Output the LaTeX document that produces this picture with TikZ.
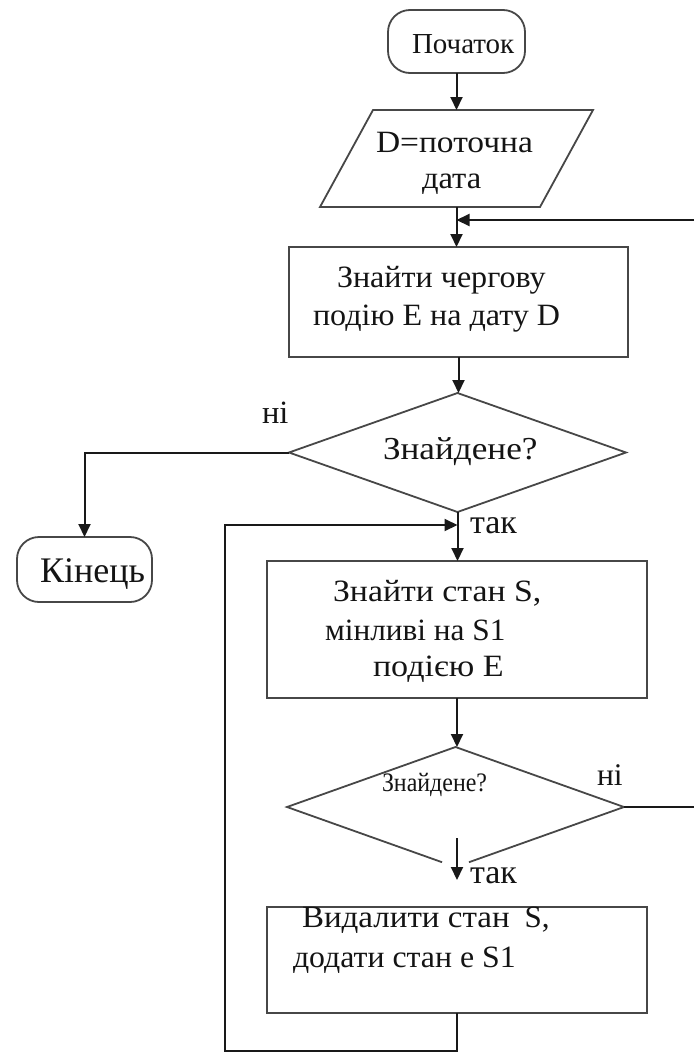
\documentclass[tikz,border=0pt]{standalone}
\usepackage{fontspec}
\setmainfont{Liberation Serif}
\usetikzlibrary{shapes.geometric,arrows.meta,calc}

% horizontally stretched text
\newcommand{\xstretch}[2]{\scalebox{#1}[1]{#2}}

\tikzset{
  flow/.style={line width=2pt, draw=black!90},
  arr/.style={flow, -{Triangle[length=13pt,width=12pt]}},
  outline/.style={draw=black!72, line width=1.8pt, inner sep=0pt, outer sep=0pt},
  terminal/.style={outline, rounded corners=22pt},
  procbox/.style={outline, rectangle},
  decision/.style={outline, diamond},
  frame/.style={rectangle, inner sep=0pt, outer sep=0pt},
  txt/.style={anchor=base west, inner sep=0pt, outer sep=0pt,
    font=\fontsize{31}{36}\selectfont, text=black!92},
  fs/.style={font=\fontsize{#1}{#1}\selectfont},
}

\begin{document}
\begin{tikzpicture}[x=1pt,y=-1pt]
\useasboundingbox (0,0) rectangle (694,1055);

% blocks
\node[terminal, minimum width=137pt, minimum height=63pt] (start) at (456.5,41.5) {};
\node[frame, minimum width=220pt, minimum height=97pt] (inp) at (456.5,158.5) {};
\node[procbox, minimum width=339pt, minimum height=110pt] (r1) at (458.5,302) {};
\node[decision, minimum width=337pt, minimum height=119pt] (d1) at (457.5,452.5) {};
\node[terminal, minimum width=135pt, minimum height=65pt] (end) at (84.5,569.5) {};
\node[procbox, minimum width=380pt, minimum height=137pt] (r2) at (457,629.5) {};
\node[decision, draw=none, minimum width=337pt, minimum height=120pt] (d2) at (455.5,807) {};
\node[procbox, minimum width=380pt, minimum height=106pt] (r3) at (457,960) {};

% input block: parallelogram leaning right
\draw[outline] ($(inp.south west)+(-26.5,0)$) -- ($(inp.north west)+(26.5,0)$)
  -- ($(inp.north east)+(26.5,0)$) -- ($(inp.south east)+(-26.5,0)$) -- cycle;

% second decision: outline left open around the lower vertex
\draw[outline] ($(d2.west)!0.92!(d2.south)$) -- (d2.west) -- (d2.north)
  -- (d2.east) -- ($(d2.east)!0.92!(d2.south)$);

% texts
\node[txt, fs=29] (tstart) at (412,53) {Початок};
\node[txt] (tin1) at (376,152) {\xstretch{1.08}{D=поточна}};
\node[txt] (tin2) at (422,188) {\xstretch{1.05}{дата}};
\node[txt] (tr1a) at (337,287) {\xstretch{1.035}{Знайти чергову}};
\node[txt] (tr1b) at (313,325) {\xstretch{1.035}{подію E на дату D}};
\node[txt, fs=32] (td1) at (383,459) {\xstretch{1.1}{Знайдене?}};
\node[txt, fs=32.5] (tno1) at (262,423) {ні};
\node[txt, fs=36] (tend) at (40,582) {Кінець};
\node[txt, fs=34] (tyes1) at (470,533) {так};
\node[txt] (tr2a) at (333,601) {\xstretch{1.09}{Знайти стан S,}};
\node[txt] (tr2b) at (325,640) {\xstretch{1.01}{мінливі на S1}};
\node[txt] (tr2c) at (373,676) {\xstretch{1.1}{подією E}};
\node[txt, fs=27.5] (td2) at (382,791) {\scalebox{0.87}[0.97]{Знайдене?}};
\node[txt, fs=31.5] (tno2) at (597,785) {ні};
\node[txt, fs=34] (tyes2) at (470,883) {так};
\node[txt] (tr3a) at (302,927) {\xstretch{1.065}{Видалити стан}\hspace{15pt}S,};
\node[txt] (tr3b) at (293,967) {\xstretch{1.026}{додати стан е S1}};

% connector end points
\coordinate (rin) at (694,220);
\coordinate (rout) at (694,807);
\coordinate (lb) at (225,1051);
\coordinate (lt) at (225,525);
\coordinate (d2a) at (457,838);
\coordinate (d2b) at (457,880);

% connectors
\draw[arr] (start.south) -- (start.south |- inp.north);
\draw[arr] (inp.south) -- (inp.south |- r1.north);
\draw[arr] (rin) -- (rin -| inp.south);
\draw[arr] (r1.south) -- (r1.south |- d1.north);
\draw[arr] (d1.west) -| (end.north);
\draw[arr] (d1.south) -- (d1.south |- r2.north);
\draw[arr] (r3.south) |- (lb) -- (lt) -- (lt -| d1.south);
\draw[arr] (r2.south) -- (r2.south |- d2.north);
\draw[flow] (d2.east) -- (rout);
\draw[arr] (d2a) -- (d2b);
\end{tikzpicture}
\end{document}
